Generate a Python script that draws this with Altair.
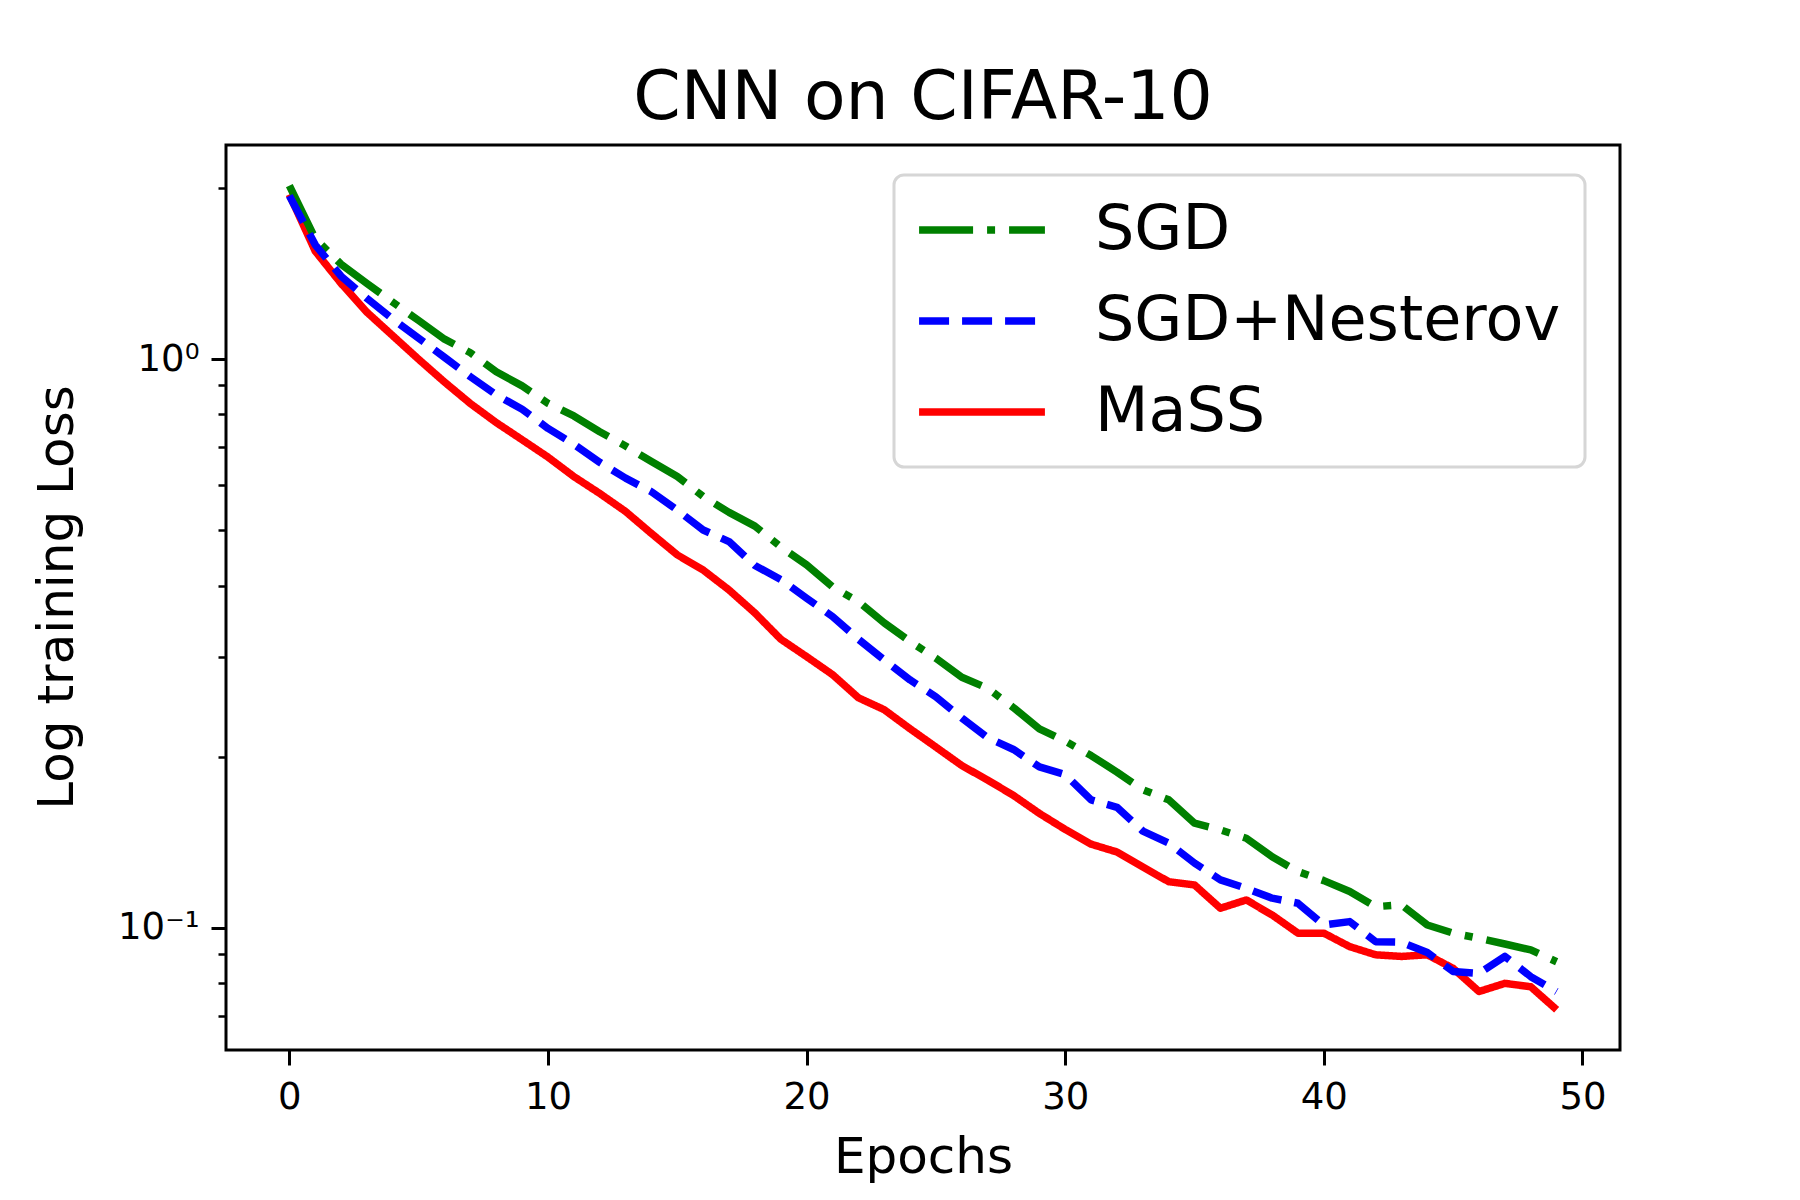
import altair as alt
import pandas as pd

epochs = list(range(50))

sgd = [2.02, 1.63, 1.47, 1.36, 1.26, 1.17, 1.085, 1.027, 0.951, 0.898,
       0.837, 0.795, 0.746, 0.704, 0.661, 0.622, 0.574, 0.538, 0.509, 0.468,
       0.435, 0.398, 0.375, 0.344, 0.319, 0.298, 0.276, 0.264, 0.244, 0.224,
       0.213, 0.201, 0.188, 0.175, 0.168, 0.1528, 0.1487, 0.1438, 0.1334, 0.1256,
       0.1211, 0.1159, 0.109, 0.1098, 0.1012, 0.0979, 0.0959, 0.0937, 0.0915, 0.0872]

nesterov = [1.94, 1.59, 1.40, 1.28, 1.177, 1.089, 1.008, 0.932, 0.866, 0.817,
            0.756, 0.709, 0.659, 0.618, 0.585, 0.543, 0.501, 0.478, 0.434, 0.410,
            0.380, 0.353, 0.322, 0.296, 0.273, 0.255, 0.234, 0.216, 0.206, 0.192,
            0.186, 0.168, 0.163, 0.148, 0.141, 0.130, 0.1215, 0.1174, 0.1128, 0.1105,
            0.1012, 0.1026, 0.0946, 0.0944, 0.0905, 0.0838, 0.0832, 0.0891, 0.0821, 0.0773]

mass = [1.95, 1.55, 1.36, 1.21, 1.10, 1.00, 0.912, 0.836, 0.774, 0.722,
        0.673, 0.622, 0.581, 0.540, 0.494, 0.453, 0.426, 0.393, 0.358, 0.322,
        0.300, 0.279, 0.254, 0.242, 0.224, 0.208, 0.193, 0.182, 0.171, 0.159,
        0.149, 0.1404, 0.136, 0.128, 0.1206, 0.119, 0.1083, 0.112, 0.1054, 0.0979,
        0.0979, 0.0927, 0.0897, 0.0891, 0.0897, 0.0849, 0.0773, 0.0799, 0.0788, 0.0718]

series_names = ["SGD", "SGD+Nesterov", "MaSS"]
series_colors = ["#008000", "#0000ff", "#ff0000"]
series_dashes = [[54, 14, 8, 14], [30, 13], [1, 0]]

rows = []
for name, vals in [("MaSS", mass), ("SGD", sgd), ("SGD+Nesterov", nesterov)]:
    for e, v in zip(epochs, vals):
        rows.append({"epoch": e, "loss": v, "series": name})
df = pd.DataFrame(rows)

FONT = "DejaVu Sans"
LW = 7.5

xscale = alt.Scale(domain=[-2.45, 51.45], nice=False, zero=False)
yscale = alt.Scale(type="log", domain=[0.0610, 2.382], nice=False)

x_axis = alt.Axis(
    values=[0, 10, 20, 30, 40, 50], title="Epochs", domain=False, grid=False,
    tickSize=15, tickWidth=3, tickColor="black",
    labelFont=FONT, labelFontSize=37, labelColor="black", labelPadding=14,
    titleFont=FONT, titleFontSize=50, titleFontWeight="normal", titleColor="black",
    titleX=697, titleY=107, titleBaseline="middle", titleAlign="center")

legend = alt.Legend(
    title=None, orient="none", legendX=668, legendY=30,
    symbolType="M-2.42,0H2.42", symbolSize=2704, symbolStrokeWidth=LW, symbolOffset=33,
    labelFontSize=62, labelFont=FONT, labelColor="black", labelLimit=1000,
    labelOffset=82, rowPadding=29, padding=24, cornerRadius=10,
    strokeColor="#d6d6d6", fillColor="white",
)

lines = alt.Chart(df).mark_line(strokeWidth=LW, strokeJoin="round", strokeCap="butt").encode(
    x=alt.X("epoch:Q", scale=xscale, axis=x_axis),
    y=alt.Y("loss:Q", scale=yscale, axis=alt.Axis(
        values=[0.1, 1], orient="left", title="Log training Loss", domain=False, grid=False,
        labelExpr="datum.value >= 0.5 ? '10\u2070' : '10\u207b\u00b9'",
        tickSize=15, tickWidth=3, tickColor="black",
        labelFont=FONT, labelFontSize=37, labelColor="black", labelPadding=12,
        titleFont=FONT, titleFontSize=50, titleFontWeight="normal", titleColor="black",
        titleX=-169, titleY=452, titleAngle=270, titleBaseline="middle", titleAlign="center")),
    color=alt.Color("series:N", scale=alt.Scale(domain=series_names, range=series_colors), legend=legend),
    strokeDash=alt.StrokeDash("series:N", scale=alt.Scale(domain=series_names, range=series_dashes), legend=legend),
)

minor = alt.Chart(df).mark_line(strokeOpacity=0).encode(
    x=alt.X("epoch:Q", scale=xscale, axis=x_axis),
    y=alt.Y("loss:Q", scale=yscale, axis=alt.Axis(
        values=[0.07, 0.08, 0.09, 0.2, 0.3, 0.4, 0.5, 0.6, 0.7, 0.8, 0.9, 2],
        orient="left", title=None, labels=False, domain=False, grid=False,
        tickSize=8, tickWidth=2.5, tickColor="black")),
    detail="series:N",
)

chart = alt.layer(lines, minor).resolve_axis(y="independent").properties(
    width=1394, height=905,
    title=alt.TitleParams("CNN on CIFAR-10", fontSize=68, font=FONT, fontWeight="normal",
                          anchor="middle", color="black", offset=12),
    autosize=alt.AutoSizeParams(type="none"),
    padding={"left": 218, "top": 137, "right": 150, "bottom": 140},
    background="white",
).configure_view(stroke="black", strokeWidth=3).configure_legend(strokeWidth=3)

chart.save("out.html", embed_options={"renderer": "svg", "actions": False})
